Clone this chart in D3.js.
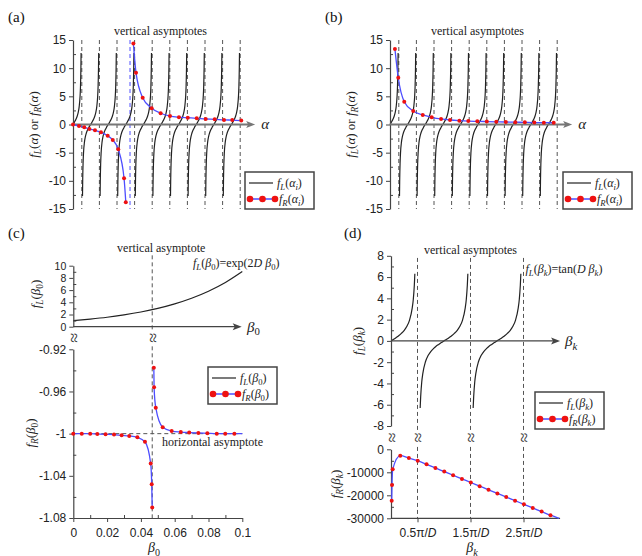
<!DOCTYPE html>
<html>
<head>
<meta charset="utf-8">
<script src="https://cdn.jsdelivr.net/npm/d3@7"></script>
<style>
body{margin:0;background:#fff}
svg{display:block}
</style>
</head>
<body>
<svg id="svg" width="642" height="556"></svg>
<script>
// ---------- data ----------
// (a),(b): tan-like branches of f_L between the vertical asymptotes (alpha in units of the spacing)
var abAsymptotes = [0.5, 1.5, 2.5, 3.5, 4.5, 5.5, 6.5, 7.5, 8.5, 9.5];
var abBranchCenters = [0, 1, 2, 3, 4, 5, 6, 7, 8, 9];
var abBranchU = [-0.46, -0.45, -0.425, -0.4, -0.35, -0.3, -0.25, -0.2, -0.15, -0.1, -0.05, 0, 0.05, 0.1, 0.15, 0.2, 0.25, 0.3, 0.35, 0.4, 0.425, 0.45, 0.46];
var abBranchV = [-12.7, -10.1, -6.66, -4.92, -3.14, -2.2, -1.6, -1.16, -0.82, -0.52, -0.25, 0, 0.25, 0.52, 0.82, 1.16, 1.6, 2.2, 3.14, 4.92, 6.66, 10.1, 12.7];
var abYTicks = [-15, -10, -5, 0, 5, 10, 15];
var abYMinor = [-12.5, -7.5, -2.5, 2.5, 7.5, 12.5];
var abAxisEnd = 10.35;

var aBlueAsymptote = 3.24;
var aFrLeft = [[0, 0], [0.34, -0.27], [0.64, -0.5], [0.93, -0.8], [1.25, -1.03], [1.59, -1.39], [1.97, -2.0], [2.26, -2.75], [2.57, -4.4], [2.9, -9.55], [3.0, -13.8]];
var aFrRight = [[3.43, 14.4], [3.58, 9.2], [3.96, 4.76], [4.47, 2.9], [4.98, 2.0], [5.51, 1.5], [6.02, 1.3], [6.52, 1.2], [7.03, 1.1], [7.54, 0.98], [8.05, 0.92], [8.58, 0.82], [9.05, 0.78], [9.56, 0.7]];

var bFr = [[0.28, 13.4], [0.47, 8.3], [0.81, 4.05], [1.32, 2.4], [1.86, 1.69], [2.37, 1.28], [2.9, 0.98], [3.41, 0.8], [3.94, 0.68], [4.45, 0.6], [4.96, 0.56], [5.5, 0.52], [6.04, 0.48], [6.58, 0.44], [7.12, 0.41], [7.66, 0.38], [8.2, 0.35], [8.74, 0.33], [9.3, 0.31]];

// (c): beta_0
var cAsymptote = 0.0467;
var cExpX = [0, 0.01, 0.02, 0.03, 0.04, 0.05, 0.06, 0.07, 0.08, 0.09, 0.1];
var cExpY = [1.0, 1.25, 1.55, 1.94, 2.41, 3.0, 3.74, 4.66, 5.81, 7.24, 9.03];
var cFrLeft = [[0, -1.0], [0.005, -1.0], [0.01, -1.0], [0.0142, -1.0003], [0.0191, -1.0006], [0.0241, -1.0009], [0.0286, -1.0016], [0.0331, -1.0022], [0.0379, -1.0035], [0.0424, -1.0077], [0.0458, -1.0284], [0.0464, -1.048], [0.0467, -1.07]];
var cFrRight = [[0.04765, -0.9374], [0.0478, -0.956], [0.0488, -0.9754], [0.0529, -0.994], [0.0582, -0.9975], [0.0636, -0.9985], [0.0686, -0.999], [0.074, -0.9994], [0.0793, -0.9997], [0.0849, -1.0], [0.0899, -1.0], [0.0953, -1.0]];
var cFrLineEnd = [0.1, -1.0];
var cTopYTicks = [0, 2, 4, 6, 8, 10];
var cTopYMinor = [1, 3, 5, 7, 9];
var cBotYTicks = [-1.08, -1.04, -1, -0.96, -0.92];
var cBotYMinor = [-1.06, -1.02, -0.98, -0.94];
var cXTicks = [0, 0.02, 0.04, 0.06, 0.08, 0.1];
var cXMinor = [0.01, 0.03, 0.05, 0.07, 0.09];

// (d): beta_k in units of pi/D
var dAsymptotes = [0.5, 1.5, 2.5];
var dBranchCenters = [0, 1, 2];
var dBranchU = [-0.45, -0.44, -0.42, -0.4, -0.35, -0.3, -0.25, -0.2, -0.15, -0.1, -0.05, 0, 0.05, 0.1, 0.15, 0.2, 0.25, 0.3, 0.35, 0.4, 0.42, 0.44, 0.45];
var dBranchV = [-6.31, -5.24, -3.87, -3.08, -1.96, -1.38, -1.0, -0.73, -0.51, -0.33, -0.16, 0, 0.16, 0.33, 0.51, 0.73, 1.0, 1.38, 1.96, 3.08, 3.87, 5.24, 6.31];
var dFr = [[0.013, -22350], [0.019, -15520], [0.032, -8700], [0.175, -2780], [0.337, -3800], [0.504, -4960], [0.671, -6540], [0.838, -8120], [1.005, -9700], [1.172, -11280], [1.339, -12860], [1.506, -14440], [1.673, -16020], [1.84, -17600], [2.007, -19180], [2.174, -20760], [2.341, -22340], [2.508, -23920], [2.675, -25500], [2.842, -27080], [3.009, -28660]];
var dFrLineEnd = [3.17, -30000];
var dTopYTicks = [-8, -6, -4, -2, 0, 2, 4, 6, 8];
var dTopYMinor = [-7, -5, -3, -1, 1, 3, 5, 7];
var dBotYTicks = [-30000, -20000, -10000, 0];
var dBotYMinor = [-25000, -15000, -5000];
var dXTicks = [0.5, 1.5, 2.5];
var dXTickLabels = ["0.5π/", "1.5π/", "2.5π/"];
var dAxisEnd = 3.19;

// ---------- styles ----------
var SANS = '"Liberation Sans", Arial, sans-serif';
var SERIF = '"Liberation Serif", "Times New Roman", serif';
var AX = "#444", DASH = "#555", CURVE = "#222", BLUE = "#4d4dff", RED = "#ee1111";

var svg = d3.select("#svg");

// ---------- scales ----------
var xA = d3.scaleLinear().domain([0, 10]).range([73, 249]);
var xB = d3.scaleLinear().domain([0, 10]).range([390, 566]);
var yAB = d3.scaleLinear().domain([-15, 15]).range([209, 40]);
var xC = d3.scaleLinear().domain([0, 0.1]).range([73.3, 242.3]);
var yCt = d3.scaleLinear().domain([0, 10]).range([326.7, 265.7]);
var yCb = d3.scaleLinear().domain([-1.08, -0.92]).range([518, 349.3]);
var xD = d3.scaleLinear().domain([0, 3]).range([391, 550]);
var yDt = d3.scaleLinear().domain([-8, 8]).range([426, 255.8]);
var yDb = d3.scaleLinear().domain([-30000, 0]).range([518.3, 449.3]);

// ---------- helpers ----------
// parts: [text, kind]  r roman, i italic, s italic subscript, sr roman subscript
function rich(g, parts, size) {
  var t = g.append("text").attr("font-family", SERIF).attr("font-size", size).attr("fill", "#222");
  var shift = 0;
  parts.forEach(function (p) {
    var sub = p[1] == "s" || p[1] == "sr";
    var ts = t.append("tspan").text(p[0]);
    if (p[1] == "i" || p[1] == "s") ts.attr("font-style", "italic");
    if (sub) ts.attr("font-size", size * 0.72);
    var target = sub ? size * 0.25 : 0;
    if (target != shift) { ts.attr("dy", target - shift); shift = target; }
  });
  return t;
}

function yAxis(scale, x, ticks, minor, fontSize) {
  var g = svg.append("g").attr("transform", "translate(" + x + ",0)")
    .call(d3.axisLeft(scale).tickValues(ticks).tickSize(4).tickSizeOuter(0).tickPadding(3)
      .tickFormat(function (d) { return String(d); }));
  g.attr("font-family", SANS).attr("font-size", fontSize || 12);
  g.select(".domain").attr("stroke", AX).attr("stroke-width", 1.2);
  g.selectAll(".tick line").attr("stroke", AX);
  g.selectAll(".tick text").attr("fill", "#222");
  var m = svg.append("g").attr("transform", "translate(" + x + ",0)")
    .call(d3.axisRight(scale).tickValues(minor).tickSize(3).tickSizeOuter(0).tickFormat(""));
  m.select(".domain").remove();
  m.selectAll("line").attr("stroke", AX);
  return g;
}

function arrowAxis(x1, x2, y, color, width) {
  svg.append("line").attr("x1", x1).attr("x2", x2 - 4).attr("y1", y).attr("y2", y)
    .attr("stroke", color).attr("stroke-width", width);
  svg.append("path").attr("d", "M" + x2 + "," + y + "l-9,-3.5l2,3.5l-2,3.5z").attr("fill", color);
}

function vdash(x, y1, y2, color) {
  svg.append("line").attr("x1", x).attr("x2", x).attr("y1", y1).attr("y2", y2)
    .attr("stroke", color || DASH).attr("stroke-width", 1).attr("stroke-dasharray", "4,3");
}

function breakMark(x, y) {
  svg.append("rect").attr("x", x - 5).attr("y", y - 7).attr("width", 10).attr("height", 14).attr("fill", "#fff");
  svg.append("text").attr("transform", "translate(" + x + "," + y + ") rotate(90)")
    .attr("text-anchor", "middle").attr("dy", "0.3em")
    .attr("font-family", SERIF).attr("font-size", 18).attr("fill", "#333").text("≈");
}

function branches(xs, ys, centers, us, vs) {
  var line = d3.line().x(function (d) { return xs(d[0]); }).y(function (d) { return ys(d[1]); }).curve(d3.curveMonotoneX);
  svg.append("g").selectAll("path").data(centers).enter().append("path")
    .attr("d", function (c) {
      return line(us.map(function (u, i) { return [c + u, vs[i]]; }).filter(function (p) { return p[0] >= 0; }));
    })
    .attr("fill", "none").attr("stroke", CURVE).attr("stroke-width", 1.2);
}

function frSeries(xs, ys, dots, tail) {
  var line = d3.line().x(function (d) { return xs(d[0]); }).y(function (d) { return ys(d[1]); }).curve(d3.curveMonotoneX);
  var pts = tail ? dots.concat([tail]) : dots;
  svg.append("path").attr("d", line(pts)).attr("fill", "none").attr("stroke", BLUE).attr("stroke-width", 1.3);
  svg.append("g").selectAll("circle").data(dots).enter().append("circle")
    .attr("cx", function (d) { return xs(d[0]); }).attr("cy", function (d) { return ys(d[1]); })
    .attr("r", 2).attr("fill", RED);
}

function legend(x, y, row1, row2) {
  var g = svg.append("g").attr("transform", "translate(" + x + "," + y + ")");
  g.append("rect").attr("width", 69).attr("height", 37).attr("fill", "#fff").attr("stroke", AX).attr("stroke-width", 1.5);
  g.append("line").attr("x1", 4).attr("x2", 28).attr("y1", 11).attr("y2", 11).attr("stroke", CURVE).attr("stroke-width", 1.2);
  g.append("line").attr("x1", 5).attr("x2", 30).attr("y1", 27).attr("y2", 27).attr("stroke", BLUE).attr("stroke-width", 1.5);
  g.selectAll("circle").data([5, 17.5, 30]).enter().append("circle")
    .attr("cx", function (d) { return d; }).attr("cy", 27).attr("r", 3.3).attr("fill", RED);
  rich(g, row1, 12).attr("x", 32).attr("y", 15);
  rich(g, row2, 12).attr("x", 34).attr("y", 31);
}

function yLabel(x, y, parts) {
  var g = svg.append("g").attr("transform", "translate(" + x + "," + y + ") rotate(-90)");
  rich(g, parts, 13).attr("text-anchor", "middle").attr("dy", "0.35em");
}

function panelTag(x, y, s) {
  svg.append("text").attr("x", x).attr("y", y).attr("font-family", SERIF).attr("font-size", 15).attr("fill", "#111").text(s);
}

function note(x, y, s, anchor) {
  svg.append("text").attr("x", x).attr("y", y).attr("text-anchor", anchor || "start")
    .attr("font-family", SERIF).attr("font-size", 12).attr("fill", "#222").text(s);
}

// ---------- panels (a) and (b) ----------
function drawAB(xs, blueAsym, frSets, legendX, tag) {
  abAsymptotes.forEach(function (a) { vdash(xs(a), yAB(15), yAB(-15)); });
  if (blueAsym != null) vdash(xs(blueAsym), yAB(15), yAB(-15), BLUE);
  branches(xs, yAB, abBranchCenters, abBranchU, abBranchV);
  yAxis(yAB, xs(0), abYTicks, abYMinor);
  arrowAxis(xs(0), xs(abAxisEnd), yAB(0), "#777", 2.2);
  rich(svg, [["α", "i"]], 15).attr("x", xs(abAxisEnd) + 6).attr("y", yAB(0) + 4);
  frSets.forEach(function (s) { frSeries(xs, yAB, s); });
  legend(legendX, 172, [["f", "i"], ["L", "s"], ["(", "r"], ["α", "i"], ["i", "s"], [")", "r"]],
    [["f", "i"], ["R", "s"], ["(", "r"], ["α", "i"], ["i", "s"], [")", "r"]]);
  yLabel(xs(0) - 40, yAB(0), [["f", "i"], ["L", "s"], ["(", "r"], ["α", "i"], [") or ", "r"], ["f", "i"], ["R", "s"], ["(", "r"], ["α", "i"], [")", "r"]]);
  note(xs(5) - 0.5, 35, "vertical asymptotes", "middle");
  panelTag(xs(0) - 65, 22, tag);
}
drawAB(xA, aBlueAsymptote, [aFrLeft, aFrRight], 245, "(a)");
drawAB(xB, null, [bFr], 563, "(b)");

// ---------- panel (c) ----------
vdash(xC(cAsymptote), yCt(11.7), yCb(-1.08));
svg.append("path")
  .attr("d", d3.line().x(function (d) { return xC(d); }).y(function (d, i) { return yCt(cExpY[i]); }).curve(d3.curveMonotoneX)(cExpX))
  .attr("fill", "none").attr("stroke", CURVE).attr("stroke-width", 1.2);
yAxis(yCt, xC(0), cTopYTicks, cTopYMinor, 10.5);
arrowAxis(xC(0), 241.7, yCt(0), AX, 1.2);
rich(svg, [["β", "i"], ["0", "sr"]], 15).attr("x", 247).attr("y", yCt(0) + 5);
note(xC(cAsymptote) + 9, 252, "vertical asymptote", "middle");
rich(svg, [["f", "i"], ["L", "s"], ["(", "r"], ["β", "i"], ["0", "sr"], [")=exp(2", "r"], ["D", "i"], [" ", "r"], ["β", "i"], ["0", "sr"], [")", "r"]], 12)
  .attr("x", 193).attr("y", 267);
yLabel(35, 294, [["f", "i"], ["L", "s"], ["(", "r"], ["β", "i"], ["0", "sr"], [")", "r"]]);

svg.append("line").attr("x1", xC(0)).attr("x2", xC(0.1)).attr("y1", yCb(-1)).attr("y2", yCb(-1))
  .attr("stroke", DASH).attr("stroke-dasharray", "4,3");
yAxis(yCb, xC(0), cBotYTicks, cBotYMinor);
var cxa = svg.append("g").attr("transform", "translate(0," + yCb(-1.08) + ")")
  .call(d3.axisBottom(xC).tickValues(cXTicks).tickSize(4).tickSizeOuter(0).tickPadding(6).tickFormat(function (d) { return String(d); }));
cxa.attr("font-family", SANS).attr("font-size", 12);
cxa.select(".domain").attr("stroke", AX).attr("stroke-width", 1.2);
cxa.selectAll(".tick line").attr("stroke", AX);
cxa.selectAll(".tick text").attr("fill", "#222");
var cxm = svg.append("g").attr("transform", "translate(0," + yCb(-1.08) + ")")
  .call(d3.axisTop(xC).tickValues(cXMinor).tickSize(3).tickFormat(""));
cxm.select(".domain").remove();
cxm.selectAll("line").attr("stroke", AX);
frSeries(xC, yCb, cFrLeft);
frSeries(xC, yCb, cFrRight, cFrLineEnd);
note(162, 446, "horizontal asymptote");
legend(208, 367, [["f", "i"], ["L", "s"], ["(", "r"], ["β", "i"], ["0", "sr"], [")", "r"]],
  [["f", "i"], ["R", "s"], ["(", "r"], ["β", "i"], ["0", "sr"], [")", "r"]]);
rich(svg, [["β", "i"], ["0", "sr"]], 14).attr("x", 154).attr("y", 552).attr("text-anchor", "middle");
yLabel(30, 433, [["f", "i"], ["R", "s"], ["(", "r"], ["β", "i"], ["0", "sr"], [")", "r"]]);
breakMark(xC(0), (yCt(0) + yCb(-0.92)) / 2);
breakMark(xC(cAsymptote), (yCt(0) + yCb(-0.92)) / 2);
panelTag(8, 238, "(c)");

// ---------- panel (d) ----------
dAsymptotes.forEach(function (a) { vdash(xD(a), yDt(7.8), yDb(-30000)); });
branches(xD, yDt, dBranchCenters, dBranchU, dBranchV);
yAxis(yDt, xD(0), dTopYTicks, dTopYMinor);
arrowAxis(xD(0), xD(dAxisEnd), yDt(0), AX, 1.2);
rich(svg, [["β", "i"], ["k", "s"]], 15).attr("x", xD(dAxisEnd) + 5).attr("y", yDt(0) + 5);
note(xD(1.5), 254, "vertical asymptotes", "middle");
rich(svg, [["f", "i"], ["L", "s"], ["(", "r"], ["β", "i"], ["k", "s"], [")=tan(", "r"], ["D", "i"], [" ", "r"], ["β", "i"], ["k", "s"], [")", "r"]], 12)
  .attr("x", xD(2.5) + 2).attr("y", 273);
yLabel(357, yDt(0), [["f", "i"], ["L", "s"], ["(", "r"], ["β", "i"], ["k", "s"], [")", "r"]]);

yAxis(yDb, xD(0), dBotYTicks, dBotYMinor);
var dxa = svg.append("g").attr("transform", "translate(0," + yDb(-30000) + ")")
  .call(d3.axisBottom(xD).tickValues(dXTicks).tickSize(4).tickSizeOuter(0).tickPadding(6).tickFormat(""));
dxa.select(".domain").attr("d", "M" + xD(0) + ",0H" + xD(dAxisEnd)).attr("stroke", AX).attr("stroke-width", 1.2);
dxa.selectAll(".tick line").attr("stroke", AX);
dxa.selectAll(".tick text").each(function (d) {
  var t = d3.select(this).attr("font-family", SANS).attr("font-size", 12).attr("fill", "#222");
  t.append("tspan").text(dXTickLabels[dXTicks.indexOf(d)]);
  t.append("tspan").attr("font-style", "italic").text("D");
});
frSeries(xD, yDb, dFr, dFrLineEnd);
legend(535, 392, [["f", "i"], ["L", "s"], ["(", "r"], ["β", "i"], ["k", "s"], [")", "r"]],
  [["f", "i"], ["R", "s"], ["(", "r"], ["β", "i"], ["k", "s"], [")", "r"]]);
rich(svg, [["β", "i"], ["k", "s"]], 14).attr("x", 472).attr("y", 552).attr("text-anchor", "middle");
yLabel(335, 484, [["f", "i"], ["R", "s"], ["(", "r"], ["β", "i"], ["k", "s"], [")", "r"]]);
var dBreakY = (yDt(-8) + yDb(0)) / 2;
breakMark(xD(0), dBreakY);
dAsymptotes.forEach(function (a) { breakMark(xD(a), dBreakY); });
panelTag(344, 238, "(d)");
</script>
</body>
</html>
